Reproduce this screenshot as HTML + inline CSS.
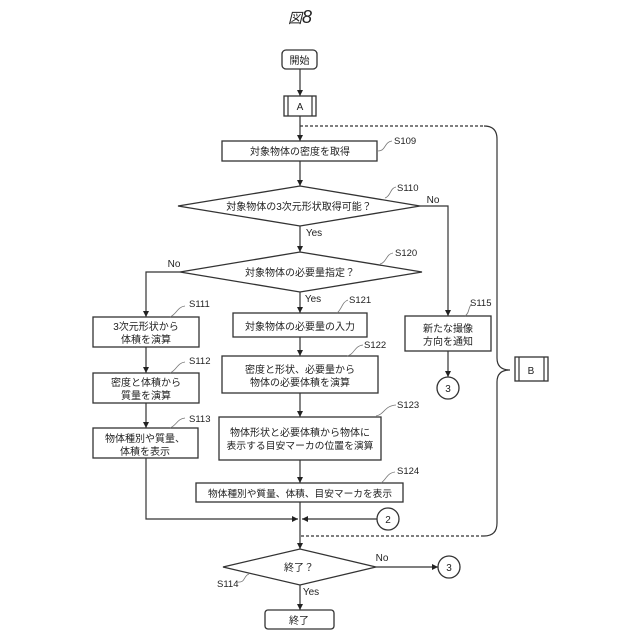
<!DOCTYPE html>
<html><head><meta charset="utf-8"><style>
html,body{margin:0;padding:0;background:#fff}
svg{display:block}
text{font-family:"Liberation Sans","Noto Sans CJK JP",sans-serif;fill:#222;font-size:10px;text-anchor:middle}
.s{font-size:9.5px;text-anchor:start}
.b{fill:#fff;stroke:#333;stroke-width:1.3}
.l{fill:none;stroke:#333;stroke-width:1.2}
.t{fill:none;stroke:#777;stroke-width:.8}
</style></head><body>
<svg width="640" height="640" viewBox="0 0 640 640" xmlns="http://www.w3.org/2000/svg">
<defs><marker id="a" markerUnits="userSpaceOnUse" markerWidth="7" markerHeight="7" refX="6" refY="3" orient="auto"><path d="M0 0L6 3L0 6Z" fill="#222"/></marker></defs>
<text x="300" y="23" style="font-size:14px;font-style:italic">図<tspan style="font-size:18px">8</tspan></text>

<path class="l" d="M300 69V96" marker-end="url(#a)"/>
<path class="l" d="M300 116V141" marker-end="url(#a)"/>
<path class="l" d="M300 161V186" marker-end="url(#a)"/>
<path class="l" d="M300 226V252" marker-end="url(#a)"/>
<path class="l" d="M300 292V313" marker-end="url(#a)"/>
<path class="l" d="M300 337V356" marker-end="url(#a)"/>
<path class="l" d="M300 393V417" marker-end="url(#a)"/>
<path class="l" d="M300 460V483" marker-end="url(#a)"/>
<path class="l" d="M300 502V549" marker-end="url(#a)"/>
<path class="l" d="M420 206H448V316" marker-end="url(#a)"/>
<path class="l" d="M448 351V377" marker-end="url(#a)"/>
<path class="l" d="M180 272H146V317" marker-end="url(#a)"/>
<path class="l" d="M146 347V373" marker-end="url(#a)"/>
<path class="l" d="M146 403V428" marker-end="url(#a)"/>
<path class="l" d="M146 458V519H298" marker-end="url(#a)"/>
<path class="l" d="M377 519H302" marker-end="url(#a)"/>
<path class="l" d="M376 567H438" marker-end="url(#a)"/>
<path class="l" d="M300 585V610" marker-end="url(#a)"/>

<path class="l" stroke-dasharray="3 2" d="M300 126H484"/>
<path class="l" d="M484 126Q497 126 497 139V358Q497 370 510 370Q497 370 497 382V523Q497 536 484 536"/>
<path class="l" stroke-dasharray="3 2" d="M484 536H300"/>

<rect class="b" x="282" y="50" width="35" height="19" rx="4"/>
<text x="299.500" y="64">開始</text>
<rect class="b" x="284" y="96" width="32" height="20"/>
<path class="l" d="M288 96V116M312 96V116"/>
<text x="300" y="110">A</text>

<rect class="b" x="222" y="141" width="155" height="20"/>
<text x="300" y="155">対象物体の密度を取得</text>

<path class="b" d="M178 206L300 186L420 206L300 226Z"/>
<text x="299" y="210">対象物体の3次元形状取得可能？</text>
<path class="b" d="M180 272L300 252L422 272L300 292Z"/>
<text x="300" y="276">対象物体の必要量指定？</text>

<rect class="b" x="93" y="317" width="106" height="30"/>
<text x="146" y="330">3次元形状から</text><text x="146" y="343">体積を演算</text>
<rect class="b" x="93" y="373" width="106" height="30"/>
<text x="146" y="386">密度と体積から</text><text x="146" y="399">質量を演算</text>
<rect class="b" x="93" y="428" width="105" height="30"/>
<text x="145" y="442">物体種別や質量、</text><text x="145" y="455">体積を表示</text>

<rect class="b" x="233" y="313" width="134" height="24"/>
<text x="300" y="330">対象物体の必要量の入力</text>
<rect class="b" x="222" y="356" width="156" height="37"/>
<text x="300" y="373">密度と形状、必要量から</text><text x="300" y="386">物体の必要体積を演算</text>
<rect class="b" x="219" y="417" width="162" height="43"/>
<text x="300" y="436">物体形状と必要体積から物体に</text><text x="300" y="449" style="font-size:9.800px">表示する目安マーカの位置を演算</text>
<rect class="b" x="196" y="483" width="207" height="19"/>
<text x="300" y="497" style="font-size:9.700px">物体種別や質量、体積、目安マーカを表示</text>

<rect class="b" x="405" y="316" width="86" height="35"/>
<text x="448" y="332">新たな撮像</text><text x="448" y="345">方向を通知</text>
<circle class="b" cx="448" cy="388" r="11"/><text x="448" y="392">3</text>

<circle class="b" cx="388" cy="519" r="11"/><text x="388" y="523">2</text>
<path class="b" d="M223 567L300 549L376 567L300 585Z"/>
<text x="299" y="571">終了？</text>
<circle class="b" cx="449" cy="567" r="11"/><text x="449" y="571">3</text>
<rect class="b" x="265" y="610" width="69" height="19" rx="3"/>
<text x="299" y="624">終了</text>

<rect class="b" x="515" y="357" width="33" height="24"/>
<path class="l" d="M519 357V381M544 357V381"/>
<text x="531" y="374">B</text>

<text x="433" y="203">No</text>
<text x="314" y="236">Yes</text>
<text x="174" y="267">No</text>
<text x="313" y="302">Yes</text>
<text x="382" y="561">No</text>
<text x="311" y="595">Yes</text>

<text class="s" x="394" y="144">S109</text>
<path class="t" d="M378 151C386 151 384 142 392 141"/>
<text class="s" x="397" y="191">S110</text>
<path class="t" d="M385 198C391 196 390 188 396 187"/>
<text class="s" x="395" y="256">S120</text>
<path class="t" d="M380 264C387 262 386 254 393 253"/>
<text class="s" x="189" y="307">S111</text>
<path class="t" d="M170 317C177 314 177 307 185 306"/>
<text class="s" x="189" y="364">S112</text>
<path class="t" d="M170 373C177 370 177 363 185 362"/>
<text class="s" x="189" y="422">S113</text>
<path class="t" d="M170 428C177 425 177 419 185 418"/>
<text class="s" x="349" y="303">S121</text>
<path class="t" d="M337 313C342 309 342 302 348 300"/>
<text class="s" x="364" y="348">S122</text>
<path class="t" d="M347 356C355 354 354 346 363 345"/>
<text class="s" x="397" y="408">S123</text>
<path class="t" d="M376 416C385 414 384 406 396 405"/>
<text class="s" x="397" y="474">S124</text>
<path class="t" d="M381 483C386 480 387 473 395 472"/>
<text class="s" x="470" y="306">S115</text>
<path class="t" d="M465 316C470 313 468 306 472 304"/>
<text class="s" x="217" y="587">S114</text>
<path class="t" d="M237 582C246 583 243 576 249 574"/>
</svg>
</body></html>
